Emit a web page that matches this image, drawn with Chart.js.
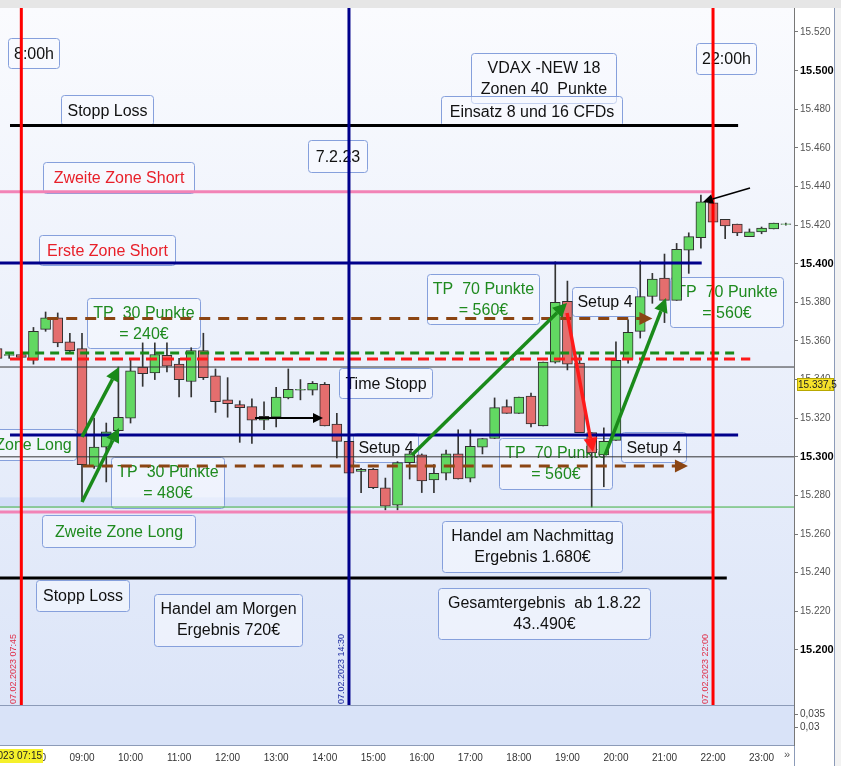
<!DOCTYPE html>
<html>
<head>
<meta charset="utf-8">
<title>DAX 07.02.2023</title>
<script src="https://cdn.jsdelivr.net/npm/chart.js@4.4.0/dist/chart.umd.min.js"></script>
<style>
  html, body { margin: 0; padding: 0; background: #fff; }
  #wrap { width: 841px; height: 766px; }
</style>
</head>
<body>
<div id="wrap"><canvas id="dax" width="841" height="766"></canvas></div>
<script>
Chart.defaults.font.family = '"Liberation Sans", Arial, sans-serif';
Chart.defaults.color = '#333';

// 15 min candles, 07.02.2023
const times = ['07:15','07:30','07:45','08:00','08:15','08:30','08:45','09:00','09:15','09:30','09:45',
  '10:00','10:15','10:30','10:45','11:00','11:15','11:30','11:45','12:00','12:15','12:30','12:45',
  '13:00','13:15','13:30','13:45','14:00','14:15','14:30','14:45','15:00','15:15','15:30','15:45',
  '16:00','16:15','16:30','16:45','17:00','17:15','17:30','17:45','18:00','18:15','18:30','18:45',
  '19:00','19:15','19:30','19:45','20:00','20:15','20:30','20:45','21:00','21:15','21:30','21:45',
  '22:00','22:15','22:30','22:45','23:00','23:15','23:30'];
const opens = [15356,15352.5,15353,15350,15366,15372,15359.5,15356,15295,15305,15313.5,
  15320,15346.5,15343.5,15352.5,15348,15339,15355,15342,15329.5,15327,15326,15319,
  15320.5,15330.5,15334.5,15334.5,15337.5,15317,15308,15292.5,15293.5,15284,15275,15297,
  15301,15288,15291.5,15301.5,15289,15305,15309.5,15326,15322.5,15331.5,15316,15349,
  15380.5,15348.5,15312.5,15301,15308.5,15350.5,15365,15383,15392.5,15381,15407,15413.5,
  15431.5,15423,15420.5,15414,15416.5,15418,15420.3];
const highs = [15357,15354,15355,15367,15375,15374.5,15364,15364,15320,15317.5,15346.5,
  15350,15359,15359,15359,15351,15356.5,15364,15345.5,15341,15329,15330,15328.5,
  15336,15345.5,15340,15339,15338.5,15322.5,15308.5,15294,15294,15289,15297.5,15303,
  15301.5,15296,15303.5,15314,15314,15309.5,15330.5,15329.5,15331,15333,15349,15401,
  15391,15353.5,15312.5,15315,15359.5,15371,15401.5,15395,15405,15410.5,15416,15435.5,
  15433,15423,15420.5,15418,15419,15421,15421];
const lows = [15350,15351,15350,15348,15365,15357,15354,15277,15294,15287,15313,
  15317.5,15336.5,15340,15344,15331,15331,15340,15323,15320.5,15307.5,15307,15314,
  15315.5,15330,15329.5,15332,15316,15299.5,15291,15281.5,15283.5,15272.5,15272.5,15288.5,
  15281.5,15281.5,15288,15288.5,15287,15301.5,15309.5,15322.5,15322.5,15315.5,15316,15348.5,
  15345,15312.5,15274,15284.5,15308.5,15348.5,15361.5,15379.5,15369.5,15381,15395,15408,
  15421.5,15413,15414.5,15414,15415.5,15418,15420];
const closes = [15351,15353,15351.5,15365,15372,15359,15355,15296,15305,15313,15320.5,
  15344.5,15343,15353,15347,15340,15355,15341,15328.5,15327.5,15325.5,15319,15321,
  15331,15335,15335,15338,15316,15308,15291.5,15293.5,15284,15274.5,15297,15301.5,
  15287.5,15291.5,15301.5,15288.5,15305.5,15309.5,15325.5,15322.5,15331,15317,15349,15380,
  15348,15312.5,15302,15308,15350,15364.5,15383,15392,15381,15407.5,15414,15432,
  15421.5,15419.5,15416,15416.5,15418.5,15421,15420.7];

const priceTicks = [15200,15220,15240,15260,15280,15300,15320,15340,15360,15380,15400,15420,15440,15460,15480,15500,15520];
const hourTicks = [8,9,10,11,12,13,14,15,16,17,18,19,20,21,22,23];
const subTicks = [0.03, 0.035];

// zone levels
const levelPrices = [15471.5, 15437.2, 15400.4, 15311.3, 15271.4, 15237.2];
const levelFrom   = ['07:31', '07:00', '07:00', '07:31', '07:00', '07:00'];
const levelTo     = ['22:31', '21:59', '21:46', '22:31', '21:59', '22:17'];

// entry levels (dashed)
const entryPrices = [15353.8, 15350.7, 15371.6, 15295.2];
const entryFrom   = ['07:25', '07:31', '08:17', '09:01'];
const entryTo     = ['22:30', '22:46', '20:45', '21:29'];

// thin reference lines
const refPrices = [15346.5, 15300, 15274];

// vertical time markers
const markerTimes = ['07:45', '14:30', '22:00'];
const markerLabels = ['07.02.2023 07:45', '07.02.2023 14:30', '07.02.2023 22:00'];

// trade arrows
const arrowFromT = [9.0, 9.0, 12.564, 15.798, 18.992, 19.775, 22.762];
const arrowFromP = [15310.3, 15276.6, 15320.1, 15300.9, 15374.5, 15300.9, 15439.2];
const arrowToT   = [9.762, 9.762, 13.965, 18.992, 19.527, 21.031, 21.793];
const arrowToP   = [15346.5, 15314.9, 15320.1, 15379.7, 15302.5, 15382.2, 15432.0];

// text notes
const noteTexts = [
  ['8:00h'], ['Stopp Loss'], ['Zweite Zone Short'], ['Erste Zone Short'],
  ['VDAX -NEW 18', 'Zonen 40  Punkte'], ['Einsatz 8 und 16 CFDs'], ['22:00h'], ['7.2.23'],
  ['TP  30 Punkte', '= 240€'], ['TP  70 Punkte', '= 560€'], ['Setup 4'], ['TP  70 Punkte', '= 560€'],
  ['Time Stopp'], ['Zone Long'], ['Setup 4'], ['TP  30 Punkte', '= 480€'], ['TP  70 Punkte', '= 560€'],
  ['Setup 4'], ['Zweite Zone Long'], ['Handel am Nachmittag', 'Ergebnis 1.680€'], ['Stopp Loss'],
  ['Handel am Morgen', 'Ergebnis 720€'], ['Gesamtergebnis  ab 1.8.22', '43..490€']
];
const noteT = [7.476, 8.567, 8.197, 8.114, 17.014, 16.396, 21.649, 13.656, 9.103, 16.108, 19.095, 21.114,
  14.295, 7.105, 14.583, 9.597, 17.591, 20.104, 8.176, 16.417, 8.052, 10.483, 16.334];
const noteP = [15516.9, 15487.4, 15452.7, 15414.9, 15509.1, 15486.9, 15514.3, 15464.1, 15382.2, 15394.7,
  15387.9, 15393.1, 15346.0, 15314.4, 15312.3, 15299.9, 15309.7, 15312.9, 15269.9, 15266.8, 15236.2,
  15229.0, 15232.1];
const noteKind = ['k','k','r','r','k','k','k','k','g','g','k','g','k','g','k','g','g','k','g','k','k','k','k'];

const crossPrice = 15337.5;
const crossLabel = '15.337,5';
const crossTime = '07.02.2023 07:15';

// ---- layout / style (not data) ----
const noteSize = [[51,30],[92,30],[151,31],[136,30],[145,50],[181,30],[60,31],[59,32],[113,50],[112,50],
  [65,29],[113,50],[93,30],[86,31],[65,29],[113,51],[113,51],[65,30],[153,32],[180,51],[93,31],[148,52],[212,51]];
const textColor = { k: '#111111', r: '#e8202a', g: '#1f8a1f' };
const levelStyle = [
  { c: '#000000', w: 3 }, { c: '#f283b6', w: 3 }, { c: '#00008b', w: 3 },
  { c: '#00008b', w: 3 }, { c: '#f283b6', w: 3 }, { c: '#000000', w: 3 }
];
const entryStyle = [
  { c: '#1a8a1a', dash: [9, 6] }, { c: '#ff1a1a', dash: [11, 6] },
  { c: '#8b4513', dash: [11, 8] }, { c: '#8b4513', dash: [11, 8] }
];
const markerColor = ['#ff0000', '#00008b', '#ff0000'];
const markerText  = ['#e0304a', '#1c2aa0', '#e0304a'];
const arrowColor = ['#1a8a1a', '#1a8a1a', '#000000', '#1a8a1a', '#ff1a1a', '#1a8a1a', '#000000'];
const arrowWidth = [3.5, 3.5, 2, 3.5, 3.5, 3.5, 1.5];
const arrowHead  = [14, 14, 10, 14, 14, 14, 10];

const Y_MIN = 15171.5, Y_MAX = 15532.4;

function hm(s) { const [h, m] = s.split(':').map(Number); return h + m / 60; }
function fmtPrice(v) { return (v / 1000).toFixed(3); }
function isRound(c) { return !!(c && c.tick && c.tick.value % 100 === 0); }

const datasets = [];

// horizontal zone lines
levelPrices.forEach((p, i) => datasets.push({
  type: 'line', order: 2, borderColor: levelStyle[i].c, borderWidth: levelStyle[i].w,
  pointRadius: 0, data: [{ x: hm(levelFrom[i]), y: p }, { x: hm(levelTo[i]), y: p }]
}));
entryPrices.forEach((p, i) => datasets.push({
  type: 'line', order: 2, borderColor: entryStyle[i].c, borderWidth: 3, borderDash: entryStyle[i].dash,
  pointRadius: 0, data: [{ x: hm(entryFrom[i]), y: p }, { x: hm(entryTo[i]), y: p }]
}));
refPrices.forEach((p, i) => datasets.push({
  type: 'line', order: 3, borderColor: i === 2 ? '#3cae3c' : '#333333', borderWidth: 1,
  pointRadius: 0, data: [{ x: 7, y: p }, { x: 24, y: p }]
}));
markerTimes.forEach((t, i) => datasets.push({
  type: 'line', order: 0, borderColor: markerColor[i], borderWidth: 3,
  pointRadius: 0, data: [{ x: hm(t), y: Y_MAX }, { x: hm(t), y: Y_MIN }]
}));

// candles: wicks + bodies
datasets.push({
  type: 'bar', order: 11, grouped: false, barThickness: 1, backgroundColor: '#333333', borderWidth: 0,
  data: times.map((t, i) => ({ x: hm(t), y: [lows[i], highs[i]] }))
});
datasets.push({
  type: 'bar', order: 10, grouped: false, barThickness: 10,
  backgroundColor: times.map((t, i) => closes[i] >= opens[i] ? '#62d862' : '#e46e6e'),
  borderColor: '#2f2f2f', borderWidth: 1, borderSkipped: false,
  data: times.map((t, i) => ({ x: hm(t), y: [opens[i], closes[i]] }))
});

function arrow(ctx, x1, y1, x2, y2, color, lw, head) {
  const a = Math.atan2(y2 - y1, x2 - x1);
  const bx = x2 - head * Math.cos(a), by = y2 - head * Math.sin(a);
  const hw = head * 0.5;
  ctx.strokeStyle = color; ctx.fillStyle = color; ctx.lineWidth = lw;
  ctx.beginPath(); ctx.moveTo(x1, y1); ctx.lineTo(bx, by); ctx.stroke();
  ctx.beginPath(); ctx.moveTo(x2, y2);
  ctx.lineTo(bx + hw * Math.sin(a), by - hw * Math.cos(a));
  ctx.lineTo(bx - hw * Math.sin(a), by + hw * Math.cos(a));
  ctx.closePath(); ctx.fill();
}

const decor = {
  id: 'decor',
  beforeDraw(chart) {
    const { ctx, chartArea: a, scales } = chart;
    const ym = scales.y, ys = scales.y2;
    ctx.save();
    ctx.fillStyle = '#ffffff'; ctx.fillRect(0, 0, chart.width, chart.height);
    ctx.fillStyle = '#e6e6e6'; ctx.fillRect(0, 0, chart.width, a.top);
    ctx.fillStyle = '#f2f2f2'; ctx.fillRect(834, a.top, chart.width - 834, chart.height - a.top);
    const g = ctx.createLinearGradient(0, ym.top, 0, ym.bottom);
    g.addColorStop(0, '#fafbfe'); g.addColorStop(1, '#dce5f8');
    ctx.fillStyle = g; ctx.fillRect(a.left, ym.top, a.width, ym.bottom - ym.top);
    ctx.fillStyle = '#d9e3f8'; ctx.fillRect(a.left, ys.top, a.width, ys.bottom - ys.top);
    // faint band under morning long zone
    const x = scales.x;
    ctx.fillStyle = 'rgba(196,214,246,0.6)';
    ctx.fillRect(a.left, ym.getPixelForValue(15279), x.getPixelForValue(14.48) - a.left,
      ym.getPixelForValue(15274) - ym.getPixelForValue(15279));
    ctx.strokeStyle = '#8c9bb8'; ctx.lineWidth = 1;
    ctx.beginPath();
    ctx.moveTo(a.left, Math.round(ys.top) + 0.5); ctx.lineTo(a.right, Math.round(ys.top) + 0.5);
    ctx.moveTo(a.left, Math.round(ys.bottom) + 0.5); ctx.lineTo(a.right, Math.round(ys.bottom) + 0.5);
    ctx.moveTo(834.5, a.top); ctx.lineTo(834.5, chart.height);
    ctx.moveTo(a.right + 0.5, ys.bottom); ctx.lineTo(a.right + 0.5, chart.height);
    ctx.stroke();
    ctx.restore();
  },
  beforeDatasetsDraw(chart) {
    const { ctx, scales } = chart;
    ctx.save();
    ctx.font = '16px "Liberation Sans", Arial, sans-serif';
    ctx.textAlign = 'center'; ctx.textBaseline = 'middle';
    noteTexts.forEach((lines, i) => {
      const x = Math.round(scales.x.getPixelForValue(noteT[i])) + 0.5;
      const y = Math.round(scales.y.getPixelForValue(noteP[i])) + 0.5;
      const [w, h] = noteSize[i];
      ctx.fillStyle = 'rgba(247,250,255,0.55)';
      ctx.strokeStyle = '#86a0dc'; ctx.lineWidth = 1;
      ctx.beginPath(); ctx.roundRect(x, y, w, h, 3); ctx.fill(); ctx.stroke();
      ctx.fillStyle = textColor[noteKind[i]];
      if (lines.length === 1) ctx.fillText(lines[0], x + w / 2, y + h / 2 + 1);
      else { ctx.fillText(lines[0], x + w / 2, y + 15); ctx.fillText(lines[1], x + w / 2, y + 36); }
    });
    ctx.restore();
  },
  afterDatasetsDraw(chart) {
    const { ctx, scales, chartArea: a } = chart;
    const X = v => scales.x.getPixelForValue(v), Y = v => scales.y.getPixelForValue(v);
    ctx.save();
    ctx.beginPath(); ctx.rect(a.left, a.top, a.width, a.height); ctx.clip();
    ctx.lineCap = 'butt';
    arrowFromT.forEach((t, i) => arrow(ctx, X(t), Y(arrowFromP[i]), X(arrowToT[i]), Y(arrowToP[i]),
      arrowColor[i], arrowWidth[i], arrowHead[i]));
    // arrow tips on the brown target lines
    [2, 3].forEach(i => {
      const x = X(hm(entryTo[i])), y = Y(entryPrices[i]);
      ctx.fillStyle = '#8b4513';
      ctx.beginPath(); ctx.moveTo(x, y); ctx.lineTo(x - 13, y - 6.5); ctx.lineTo(x - 13, y + 6.5);
      ctx.closePath(); ctx.fill();
    });
    // rotated date labels at the vertical markers
    ctx.font = '9px "Liberation Sans", Arial, sans-serif';
    ctx.textAlign = 'left'; ctx.textBaseline = 'bottom';
    markerTimes.forEach((t, i) => {
      ctx.save();
      ctx.translate(X(hm(t)) - 3, scales.y.bottom - 1);
      ctx.rotate(-Math.PI / 2);
      ctx.fillStyle = markerText[i];
      ctx.fillText(markerLabels[i], 0, 0);
      ctx.restore();
    });
    ctx.restore();
  },
  afterDraw(chart) {
    const { ctx, scales } = chart;
    ctx.save();
    ctx.font = '10px "Liberation Sans", Arial, sans-serif';
    ctx.textBaseline = 'middle';
    // crosshair price label
    const py = Math.round(scales.y.getPixelForValue(crossPrice));
    ctx.fillStyle = '#f5e12a'; ctx.fillRect(797, py - 6, 37, 13);
    ctx.strokeStyle = '#b8a800'; ctx.lineWidth = 1; ctx.strokeRect(797.5, py - 5.5, 36, 12);
    ctx.fillStyle = '#222'; ctx.textAlign = 'left'; ctx.fillText(crossLabel, 798, py + 1);
    // crosshair time label
    const ty = scales.x.top + 11;
    ctx.fillStyle = '#f5f02a'; ctx.fillRect(0, ty - 7, 43, 14);
    ctx.fillStyle = '#222'; ctx.textAlign = 'right'; ctx.fillText(crossTime, 42, ty);
    ctx.fillStyle = '#555'; ctx.textAlign = 'center'; ctx.font = '11px "Liberation Sans", Arial, sans-serif';
    ctx.fillText('»', 787, ty - 1);
    ctx.restore();
  }
};

const chart = new Chart(document.getElementById('dax'), {
  type: 'bar',
  data: { datasets },
  options: {
    responsive: false,
    animation: false,
    layout: { padding: { top: 8, left: 0, right: 0, bottom: 0 } },
    plugins: { legend: { display: false }, tooltip: { enabled: false } },
    scales: {
      x: {
        type: 'linear', min: 7.3107, max: 23.668, offset: false,
        grid: { display: false }, border: { display: false },
        afterBuildTicks: s => { s.ticks = hourTicks.map(v => ({ value: v })); },
        afterFit: s => { s.height = 21; },
        ticks: {
          autoSkip: false, maxRotation: 0, padding: -1, color: '#333', font: { size: 10 },
          callback: v => String(v).padStart(2, '0') + ':00'
        }
      },
      y: {
        type: 'linear', position: 'right', stack: 'pane', stackWeight: 697, offset: false,
        min: Y_MIN, max: Y_MAX,
        afterBuildTicks: s => { s.ticks = priceTicks.map(v => ({ value: v })); },
        afterFit: s => { s.width = 47; },
        grid: { drawOnChartArea: false, tickLength: 4, color: '#777' },
        border: { display: true, color: '#777' },
        ticks: {
          padding: 2,
          callback: v => fmtPrice(v),
          color: c => isRound(c) ? '#000' : '#555',
          font: c => isRound(c) ? { size: 11, weight: 'bold' } : { size: 10 }
        }
      },
      y2: {
        type: 'linear', position: 'right', stack: 'pane', stackWeight: 40, offset: false,
        min: 0.023077, max: 0.038462,
        afterBuildTicks: s => { s.ticks = subTicks.map(v => ({ value: v })); },
        afterFit: s => { s.width = 47; },
        grid: { drawOnChartArea: false, tickLength: 4, color: '#777' },
        border: { display: true, color: '#777' },
        ticks: { padding: 2, color: '#444', font: { size: 10 }, callback: v => String(v).replace('.', ',') }
      }
    }
  },
  plugins: [decor]
});
</script>
</body>
</html>
